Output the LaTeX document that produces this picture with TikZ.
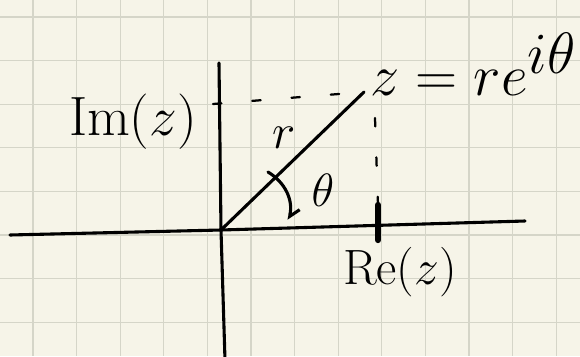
\documentclass[tikz,border=0pt]{standalone}
\usetikzlibrary{arrows.meta}
\definecolor{paper}{HTML}{F6F4E8}
\definecolor{gridink}{HTML}{D5D5C8}
\newcommand{\handlbl}[2][2.0]{\scalebox{#1}{\huge$#2$}}
\tikzset{
  ink/.style={line width=2.2pt, line cap=round, black},
  guide/.style={line width=1.6pt, line cap=round, dash pattern=on 6pt off 22pt},
  lbl/.style={inner sep=0pt}
}
\begin{document}
\begin{tikzpicture}[x=0.025cm, y=-0.025cm]
  \useasboundingbox (0,0) rectangle (580,356);
  \fill[paper] (0,0) rectangle (580,356);
  \clip (0,0) rectangle (580,356);
  % squared paper
  \foreach \k in {0,...,12}
    \draw[gridink, line width=0.8pt] ({33+43.6*\k},0) -- ({33+43.6*\k},356);
  \foreach \k in {0,...,7}
    \draw[gridink, line width=0.8pt] (0,{17+43.6*\k}) -- (580,{17+43.6*\k});
  % axes
  \coordinate (O) at (221,230);
  \coordinate (xl) at (10,235);
  \coordinate (xr) at (525,221);
  \coordinate (yt) at (219,63);
  \coordinate (yb) at (225,360);
  \draw[ink] (xl) -- (O) -- (xr);
  \draw[ink] (yt) -- (O) -- (yb);
  % the point z
  \coordinate (Z) at (364,92);
  \coordinate (Zy) at (213,104);
  \coordinate (Zx) at (375,118);
  \coordinate (ta) at (378,205);
  \coordinate (tb) at (378,240);
  \draw[ink] (O) -- (Z);
  \draw[guide] (Zy) -- (Z);
  \draw[guide] (Zx) -- (ta);
  \draw[line width=4.5pt, line cap=round] (ta) -- (tb);
  % angle
  \coordinate (a1) at (268,172);
  \coordinate (a2) at (289,220);
  \draw[ink, -{Straight Barb[left, length=6pt]}] (a1) to[bend left=35] (a2);
  \node[lbl] (im) at (133,122) {\handlbl[1.9]{\mathrm{Im}(z)}};
  \node[lbl] (re) at (400,272) {\handlbl[1.7]{\mathrm{Re}(z)}};
  \node[lbl] (rr) at (284,138) {\handlbl[1.7]{r}};
  \node[lbl] (th) at (323,190) {\handlbl[1.6]{\theta}};
  \node[lbl, anchor=base west] (zz) at (370,95) {\handlbl[2.0]{z=re^{\textstyle i\theta}}};
\end{tikzpicture}
\end{document}
